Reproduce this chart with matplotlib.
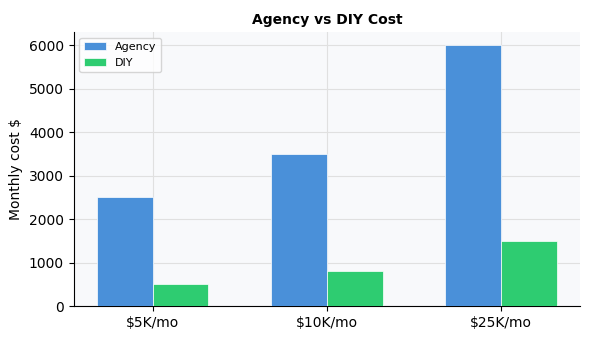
import matplotlib
matplotlib.use("Agg")
import matplotlib.pyplot as plt
import numpy as np

tiers = ['$5K/mo', '$10K/mo', '$25K/mo']
agency_cost = [2500, 3500, 6000]
diy_cost = [500, 800, 1500]

fig, ax = plt.subplots(figsize=(5.9, 3.4), dpi=100)
x = np.arange(len(tiers))
w = 0.32
ax.bar(x - w / 2, agency_cost, w, label='Agency', color='#4a90d9', edgecolor='white', linewidth=0.5, zorder=3)
ax.bar(x + w / 2, diy_cost, w, label='DIY', color='#2ecc71', edgecolor='white', linewidth=0.5, zorder=3)

ax.set_facecolor('#f8f9fb')
ax.grid(True, color='#e0e0e0', linewidth=0.8, zorder=0)
ax.set_axisbelow(True)
ax.spines['top'].set_visible(False)
ax.spines['right'].set_visible(False)
ax.set_xticks(x)
ax.set_xticklabels(tiers)
ax.set_ylabel('Monthly cost $')
ax.set_title('Agency vs DIY Cost', fontsize=10, fontweight='bold')
ax.legend(loc='upper left', fontsize=8)

fig.subplots_adjust(left=0.125, right=0.983, top=0.906, bottom=0.1)
fig.savefig('out.png', dpi=100)
